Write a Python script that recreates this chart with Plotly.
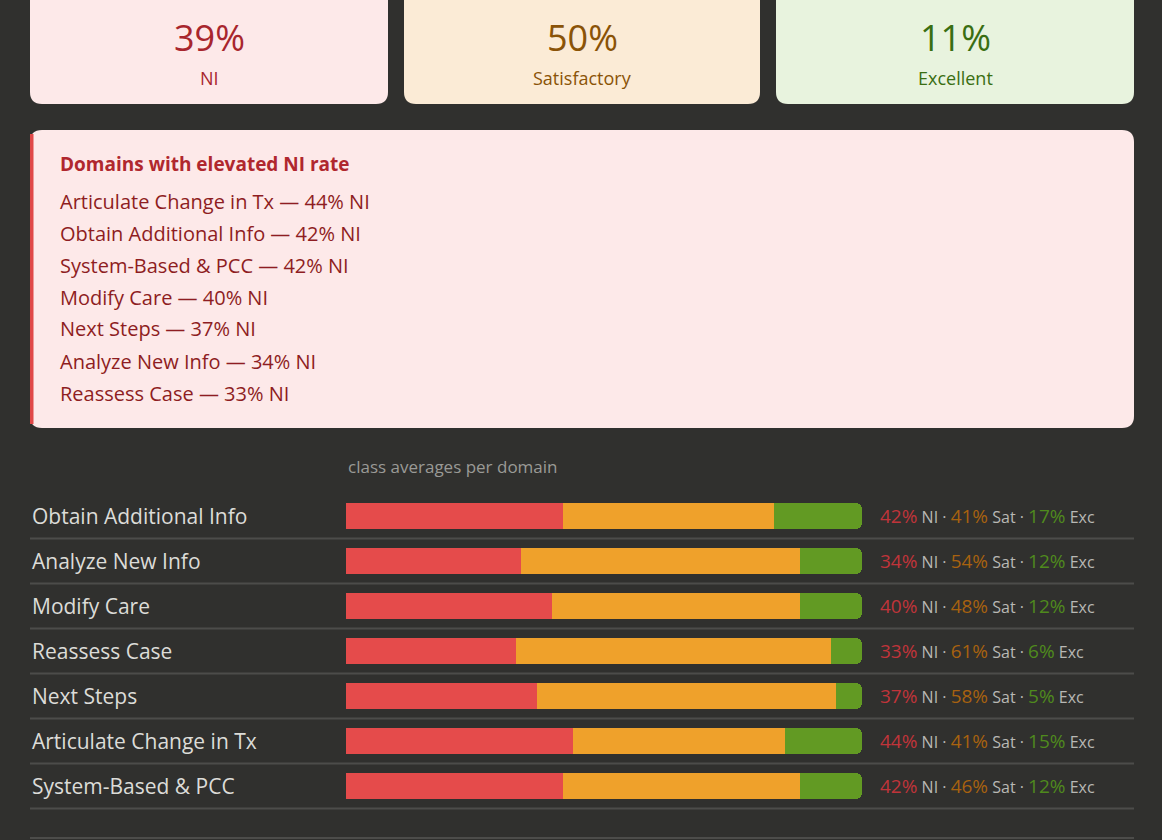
import plotly.graph_objects as go

W, H = 1162, 840

summary_pct = [39, 50, 11]
summary_labels = ["NI", "Satisfactory", "Excellent"]

alert_domains = ["Articulate Change in Tx", "Obtain Additional Info", "System-Based & PCC",
                 "Modify Care", "Next Steps", "Analyze New Info", "Reassess Case"]
alert_ni = [44, 42, 42, 40, 37, 34, 33]

domains = ["Obtain Additional Info", "Analyze New Info", "Modify Care", "Reassess Case",
           "Next Steps", "Articulate Change in Tx", "System-Based & PCC"]
ni = [42, 34, 40, 33, 37, 44, 42]
sat = [41, 54, 48, 61, 58, 41, 46]
exc = [17, 12, 12, 6, 5, 15, 12]

BG = "#30302e"
FONT = "Open Sans, Helvetica, Arial, sans-serif"


def px(x):
    return x / W


def py(y):
    return 1 - y / H


def rrect(x0, y0, x1, y1, r, fill):
    p = (f"M {px(x0+r)},{py(y0)} L {px(x1-r)},{py(y0)} Q {px(x1)},{py(y0)} {px(x1)},{py(y0+r)} "
         f"L {px(x1)},{py(y1-r)} Q {px(x1)},{py(y1)} {px(x1-r)},{py(y1)} "
         f"L {px(x0+r)},{py(y1)} Q {px(x0)},{py(y1)} {px(x0)},{py(y1-r)} "
         f"L {px(x0)},{py(y0+r)} Q {px(x0)},{py(y0)} {px(x0+r)},{py(y0)} Z")
    return dict(type="path", path=p, xref="paper", yref="paper", fillcolor=fill,
                line=dict(width=0), layer="below")


fig = go.Figure()
for vals, name, col in [(ni, "NI", "#e54b4b"), (sat, "Sat", "#efa12b"), (exc, "Exc", "#629a23")]:
    fig.add_trace(go.Bar(y=domains, x=vals, orientation="h", name=name,
                         marker=dict(color=col, line=dict(width=0)), width=0.58,
                         hoverinfo="x+y"))

shapes, annos = [], []

# summary cards
card_x = [(30, 388), (404, 760), (776, 1134)]
card_bg = ["#fde9e9", "#fbebd6", "#e8f3de"]
card_fg = ["#a8262d", "#8a5307", "#3a6e12"]
for (x0, x1), bg, fg, v, lab in zip(card_x, card_bg, card_fg, summary_pct, summary_labels):
    shapes.append(rrect(x0, -20, x1, 104, 12, bg))
    cx = px((x0 + x1) / 2)
    annos.append(dict(x=cx, y=py(38), text=f"{v}%", font=dict(size=36, color=fg)))
    annos.append(dict(x=cx, y=py(78), text=lab, font=dict(size=18, color=fg)))

# alert box
shapes.append(rrect(30, 130, 1134, 428, 12, "#fde9e9"))
shapes.append(dict(type="rect", xref="paper", yref="paper", x0=px(30), x1=px(33.5),
                   y0=py(424), y1=py(134), fillcolor="#e04848", line=dict(width=0)))
annos.append(dict(x=px(58), y=py(164), xanchor="left", text="<b>Domains with elevated NI rate</b>",
                  font=dict(size=19, color="#b0272e")))
for i, (d, v) in enumerate(zip(alert_domains, alert_ni)):
    annos.append(dict(x=px(58), y=py(201 + 32 * i), xanchor="left", text=f"{d} — {v}% NI",
                      font=dict(size=20, color="#8e1d22")))

annos.append(dict(x=px(346), y=py(466), xanchor="left", text="class averages per domain",
                  font=dict(size=17, color="#9a9a96")))

for i, d in enumerate(domains):
    yc = 516 + 45 * i
    annos.append(dict(x=px(30), y=py(yc), xanchor="left", text=d, font=dict(size=21, color="#dcdcd8")))
    t = (f"<span style='color:#c0343a;font-size:19px'>{ni[i]}%</span> NI · "
         f"<span style='color:#a8620f;font-size:19px'>{sat[i]}%</span> Sat · "
         f"<span style='color:#4f8a1d;font-size:19px'>{exc[i]}%</span> Exc")
    annos.append(dict(x=px(878), y=py(yc), xanchor="left", text=t, font=dict(size=16, color="#b8b8b4")))
    shapes.append(dict(type="line", xref="paper", yref="paper", x0=px(30), x1=px(1134),
                       y0=py(yc + 22.5), y1=py(yc + 22.5), line=dict(color="#4c4c4a", width=2)))
shapes.append(dict(type="line", xref="paper", yref="paper", x0=px(30), x1=px(1134),
                   y0=py(838), y1=py(838), line=dict(color="#4c4c4a", width=2)))

for a in annos:
    a.update(xref="paper", yref="paper", showarrow=False, yanchor="middle")
    a["font"]["family"] = FONT
    a.setdefault("xanchor", "center")

fig.update_layout(
    width=W, height=H, margin=dict(l=0, r=0, t=0, b=0),
    paper_bgcolor=BG, plot_bgcolor=BG, barmode="stack", barcornerradius=6,
    showlegend=False, shapes=shapes, annotations=annos,
    xaxis=dict(domain=[px(346), px(862)], range=[0, 100], visible=False, fixedrange=True),
    yaxis=dict(domain=[py(808.5), py(493.5)], categoryorder="array", categoryarray=domains,
               autorange="reversed", visible=False, fixedrange=True),
)

fig.write_html("out.html", config={"displayModeBar": False},
               post_script="document.body.style.margin='0';document.body.style.background='#30302e';")
